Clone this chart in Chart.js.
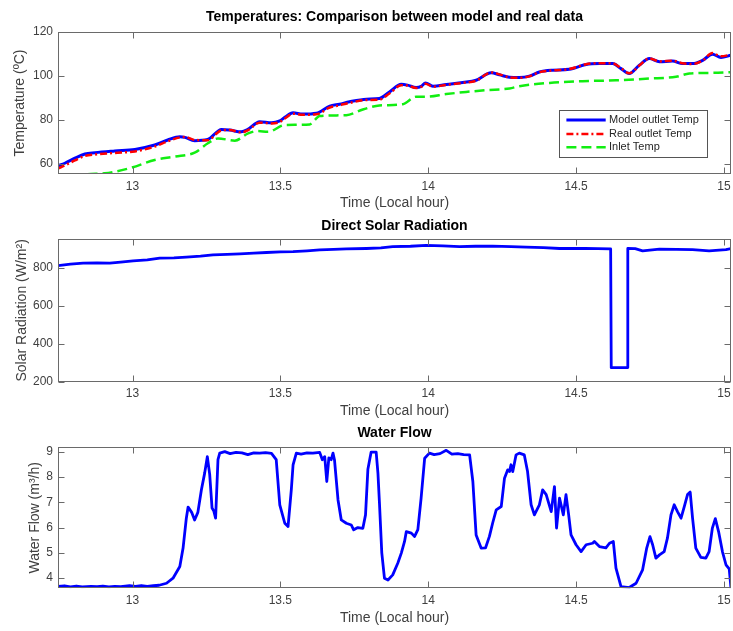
<!DOCTYPE html>
<html><head><meta charset="utf-8">
<script src="https://cdn.jsdelivr.net/npm/chart.js@4.4.0/dist/chart.umd.min.js"></script>
<style>
html,body{margin:0;padding:0;background:#fff;}
#wrap{position:relative;width:733px;height:631px;background:#fff;}
canvas{position:absolute;left:0;}
</style></head><body>
<div id="wrap">
<canvas id="c1" width="733" height="212" style="top:0px"></canvas>
<canvas id="c2" width="733" height="208" style="top:212px"></canvas>
<canvas id="c3" width="733" height="211" style="top:420px"></canvas>
</div>
<script>
// ---------- DATA ----------
const xTicks = [13, 13.5, 14, 14.5, 15];
const X_MIN = 12.748, X_MAX = 15.024;

const tempTicks = [60, 80, 100, 120];
const tempHour = [12.748,12.771,12.805,12.839,12.873,12.940,13.008,13.075,13.119,13.160,
13.177,13.210,13.254,13.301,13.329,13.368,13.390,13.430,13.470,13.498,
13.515,13.543,13.575,13.622,13.667,13.700,13.734,13.791,13.835,13.869,
13.909,13.930,13.959,13.976,13.991,14.016,14.061,14.117,14.162,14.213,
14.241,14.275,14.308,14.342,14.376,14.421,14.477,14.534,14.579,14.624,
14.652,14.680,14.714,14.748,14.782,14.826,14.860,14.894,14.928,14.961,
14.990,15.024];
const modelTemp = [59.0,60.2,62.5,64.4,65.0,65.8,66.5,68.5,70.8,72.3,
72.0,70.5,71.0,75.6,75.3,74.5,75.6,79.1,78.6,79.5,
81.1,83.2,82.6,83.0,86.2,87.1,88.2,89.4,89.7,92.7,
96.2,95.8,94.7,95.2,96.8,95.3,96.1,97.0,98.0,101.4,
100.5,99.4,99.3,99.9,101.8,102.6,103.0,105.2,105.6,105.6,
103.3,101.1,104.9,107.9,106.4,106.8,105.6,105.6,107.1,109.9,
108.4,109.4];
const realTemp = [57.8,59.2,61.5,63.5,64.2,64.9,65.6,67.8,70.2,72.0,
72.2,70.8,70.7,75.2,75.4,74.2,75.2,78.7,78.3,79.0,
80.6,82.8,82.3,82.5,85.6,86.6,87.7,89.0,89.2,92.0,
95.7,95.6,94.5,95.0,96.4,95.1,95.9,96.8,97.8,101.6,
100.7,99.3,99.1,99.8,101.7,102.5,103.1,105.3,105.8,105.7,
103.5,101.2,104.7,108.0,106.6,106.9,105.8,105.4,107.0,110.4,
108.9,109.7];
const inletHour = [12.748,12.805,12.845,12.906,12.997,13.075,13.143,13.210,13.255,13.289,
13.346,13.391,13.424,13.458,13.515,13.599,13.633,13.723,13.779,13.835,
13.914,13.959,13.993,14.061,14.128,14.196,14.275,14.308,14.410,14.522,
14.635,14.748,14.838,14.883,14.961,15.024];
const inletTemp = [53.0,54.0,55.2,55.6,58.2,61.7,63.2,65.0,69.3,71.5,
70.5,73.8,74.9,74.5,77.6,77.9,81.7,82.1,84.7,86.5,
87.1,90.5,90.5,91.7,92.7,93.5,94.3,95.3,96.8,97.6,
98.0,98.8,99.6,101.1,101.4,101.7];

const solarTicks = [200, 400, 600, 800];
const solarHour = [12.748,12.790,12.833,12.880,12.923,12.960,13.002,13.050,13.092,13.140,
13.182,13.230,13.272,13.320,13.363,13.410,13.453,13.500,13.543,13.590,
13.633,13.680,13.723,13.791,13.840,13.880,13.940,13.993,14.050,14.106,
14.160,14.218,14.280,14.331,14.390,14.444,14.530,14.617,14.619,14.673,
14.675,14.700,14.725,14.782,14.840,14.894,14.950,15.007,15.024];
const solarValue = [810,818,823,825,823,828,835,840,849,851,
855,860,867,869,872,876,879,882,884,888,
893,895,898,900,903,910,912,916,914,910,
912,913,910,907,905,900,901,898,274,274,
900,899,888,897,895,894,888,894,900];

const flowTicks = [4, 5, 6, 7, 8, 9];
const flowHour = [12.748,12.770,12.790,12.810,12.830,12.860,12.880,12.900,12.920,12.940,
12.960,12.990,13.010,13.030,13.050,13.070,13.090,13.115,13.137,13.160,
13.171,13.182,13.188,13.200,13.210,13.221,13.233,13.244,13.253,13.261,
13.269,13.275,13.281,13.289,13.295,13.312,13.330,13.350,13.370,13.390,
13.410,13.430,13.450,13.470,13.486,13.498,13.515,13.526,13.537,13.543,
13.554,13.570,13.590,13.610,13.633,13.642,13.650,13.657,13.664,13.672,
13.678,13.683,13.695,13.706,13.723,13.740,13.748,13.762,13.779,13.788,
13.796,13.807,13.824,13.830,13.835,13.843,13.852,13.864,13.880,13.897,
13.909,13.920,13.926,13.943,13.954,13.965,13.976,13.988,14.004,14.020,
14.040,14.061,14.080,14.100,14.120,14.140,14.151,14.162,14.179,14.194,
14.207,14.218,14.230,14.247,14.258,14.269,14.275,14.280,14.286,14.297,
14.308,14.325,14.336,14.348,14.359,14.376,14.387,14.399,14.416,14.427,
14.434,14.444,14.457,14.466,14.475,14.483,14.500,14.517,14.534,14.556,
14.562,14.579,14.601,14.613,14.626,14.635,14.652,14.680,14.703,14.725,
14.739,14.750,14.759,14.770,14.782,14.798,14.809,14.821,14.832,14.843,
14.855,14.866,14.877,14.886,14.894,14.905,14.922,14.939,14.950,14.961,
14.971,14.982,14.995,15.007,15.018,15.024];
const flowValue = [3.67,3.70,3.66,3.69,3.66,3.68,3.67,3.69,3.66,3.68,
3.67,3.70,3.68,3.71,3.68,3.70,3.72,3.80,4.00,4.46,
5.19,6.37,6.81,6.60,6.30,6.60,7.49,8.15,8.80,8.10,
6.77,6.65,6.37,8.68,8.94,9.00,8.92,8.97,8.95,8.88,
8.95,8.94,8.96,8.93,8.68,6.90,6.17,6.04,7.49,8.48,
8.94,8.90,8.95,8.94,8.97,8.68,8.80,7.82,8.75,8.68,
8.94,8.68,7.09,6.30,6.17,6.10,5.91,6.00,5.97,6.50,
8.30,8.98,8.98,8.15,7.00,5.00,4.00,3.93,4.13,4.59,
4.99,5.45,5.84,5.78,5.65,5.92,7.16,8.74,8.94,8.88,
8.92,9.05,8.90,8.92,8.88,8.87,7.82,5.71,5.19,5.20,
5.65,6.18,6.70,6.83,7.95,8.28,8.21,8.48,8.21,8.87,
8.94,8.87,8.21,6.90,6.50,6.90,7.49,7.30,6.63,7.62,
5.98,7.16,6.50,7.30,6.50,5.71,5.32,5.05,5.32,5.38,
5.45,5.25,5.20,5.38,5.45,4.40,3.67,3.63,3.80,4.33,
5.19,5.64,5.32,4.79,4.92,5.05,5.58,6.50,6.90,6.63,
6.37,6.83,7.30,7.40,6.37,5.19,4.82,4.79,5.05,5.98,
6.35,5.84,5.05,4.53,4.37,3.60];

// ---------- RENDER ----------
const FONT = "'Liberation Sans', Arial, Helvetica, sans-serif";
Chart.defaults.font.family = FONT;
Chart.defaults.color = '#404040';

function pts(xs, ys){ return xs.map((x,i)=>({x:x, y:ys[i]})); }

const boxPlugin = {
  id:'matlabBox',
  afterDraw(chart){
    const {ctx, chartArea:a, scales:{x,y}} = chart;
    ctx.save();
    ctx.strokeStyle='#6a6a6a'; ctx.lineWidth=1; ctx.setLineDash([]);
    const L=Math.round(a.left)+0.5, R=Math.round(a.right)-0.5, T=Math.round(a.top)+0.5, B=Math.round(a.bottom)-0.5;
    ctx.strokeRect(L,T,R-L,B-T);
    ctx.beginPath();
    x.ticks.forEach(t=>{const px=Math.round(x.getPixelForValue(t.value))+0.5; ctx.moveTo(px,B); ctx.lineTo(px,B-6); ctx.moveTo(px,T); ctx.lineTo(px,T+6);});
    y.ticks.forEach(t=>{const py=Math.round(y.getPixelForValue(t.value))+0.5; ctx.moveTo(L,py); ctx.lineTo(L+6,py); ctx.moveTo(R,py); ctx.lineTo(R-6,py);});
    ctx.stroke();
    ctx.restore();
  }
};

const legendPlugin = {
  id:'insideLegend',
  afterDraw(chart){
    const {ctx, chartArea:a} = chart;
    const w=148, h=47, x0=Math.round(a.right-23.7-w), y0=Math.round(a.bottom-16.7-h);
    ctx.save();
    ctx.fillStyle='#fff'; ctx.fillRect(x0,y0,w,h);
    ctx.strokeStyle='#555'; ctx.lineWidth=1; ctx.strokeRect(x0+0.5, y0+0.5, w, h);
    const rows=[10,24,37.3];
    chart.data.datasets.forEach((ds,i)=>{
      const yy=y0+rows[i];
      ctx.beginPath(); ctx.setLineDash(ds.borderDash||[]); ctx.strokeStyle=ds.borderColor; ctx.lineWidth=ds.borderWidth;
      ctx.moveTo(x0+7.4,yy); ctx.lineTo(x0+46.7,yy); ctx.stroke();
      ctx.setLineDash([]);
      ctx.fillStyle='#262626'; ctx.font="11px "+FONT; ctx.textBaseline='middle'; ctx.textAlign='left';
      ctx.fillText(ds.label, x0+50, yy);
    });
    ctx.restore();
  }
};

function makeOptions(c){
  return {
    responsive:false, animation:false, events:[],
    layout:{padding:{left:0,right:2,top:0,bottom:0}},
    plugins:{
      legend:{display:false}, tooltip:{enabled:false},
      title:{display:true, text:c.title, fullSize:false, color:'#000',
        font:{size:14, weight:'bold', lineHeight:1.2}, padding:{top:c.tTop, bottom:c.tBottom}}
    },
    scales:{
      x:{type:'linear', min:X_MIN, max:X_MAX,
        grid:{display:false, drawTicks:false}, border:{display:false},
        afterFit:s=>{s.height=c.xH; s.paddingLeft=0; s.paddingRight=0;},
        afterBuildTicks:s=>{s.ticks=xTicks.map(v=>({value:v}));},
        ticks:{padding:c.xPad, font:{size:12}, color:'#404040', maxRotation:0, autoSkip:false, callback:v=>String(v)},
        title:{display:true, text:'Time (Local hour)', font:{size:14, lineHeight:1.2}, color:'#404040', padding:{top:0,bottom:c.xtPad}}},
      y:{type:'linear', min:c.yMin, max:c.yMax,
        grid:{display:false, drawTicks:false}, border:{display:false},
        afterFit:s=>{s.width=58; s.paddingTop=0; s.paddingBottom=0;},
        afterBuildTicks:s=>{s.ticks=c.yTicks.map(v=>({value:v}));},
        ticks:{padding:5, font:{size:12}, color:'#404040', callback:v=>String(v)},
        title:{display:true, text:c.yTitle, font:{size:14, lineHeight:1.2}, color:'#404040', padding:{top:c.ytPad,bottom:0}}}
    }
  };
}

const lineBase = {pointRadius:0, fill:false, borderJoinStyle:'round', clip:0};

new Chart(document.getElementById('c1'), {
  type:'line',
  data:{datasets:[
    Object.assign({label:'Model outlet Temp', data:pts(tempHour,modelTemp), borderColor:'#0000ff', borderWidth:3, cubicInterpolationMode:'monotone', order:3}, lineBase),
    Object.assign({label:'Real outlet Temp', data:pts(tempHour,realTemp), borderColor:'#ff0000', borderWidth:2.5, borderDash:[7,3,2,3], cubicInterpolationMode:'monotone', order:2}, lineBase),
    Object.assign({label:'Inlet Temp', data:pts(inletHour,inletTemp), borderColor:'#11ee11', borderWidth:2.5, borderDash:[10,5], cubicInterpolationMode:'monotone', order:1}, lineBase)
  ]},
  options:makeOptions({title:'Temperatures: Comparison between model and real data', tTop:9.2, tBottom:6,
    xH:38, xPad:5.3, xtPad:0.6, yMin:55.3, yMax:120, yTicks:tempTicks, yTitle:'Temperature (ºC)', ytPad:12.1}),
  plugins:[boxPlugin, legendPlugin]
});

new Chart(document.getElementById('c2'), {
  type:'line',
  data:{datasets:[
    Object.assign({label:'Direct Solar Radiation', data:pts(solarHour,solarValue), borderColor:'#0000ff', borderWidth:2.8}, lineBase)
  ]},
  options:makeOptions({title:'Direct Solar Radiation', tTop:5.6, tBottom:4.6,
    xH:38.3, xPad:4.8, xtPad:0.2, yMin:200, yMax:950, yTicks:solarTicks, yTitle:'Solar Radiation (W/m²)', ytPad:13.3}),
  plugins:[boxPlugin]
});

new Chart(document.getElementById('c3'), {
  type:'line',
  data:{datasets:[
    Object.assign({label:'Water Flow', data:pts(flowHour,flowValue), borderColor:'#0000ff', borderWidth:2.8}, lineBase)
  ]},
  options:makeOptions({title:'Water Flow', tTop:4.6, tBottom:5.9,
    xH:42.7, xPad:5.5, xtPad:4.9, yMin:3.6, yMax:9.17, yTicks:flowTicks, yTitle:'Water Flow (m³/h)', ytPad:26.6}),
  plugins:[boxPlugin]
});
</script>
</body></html>
